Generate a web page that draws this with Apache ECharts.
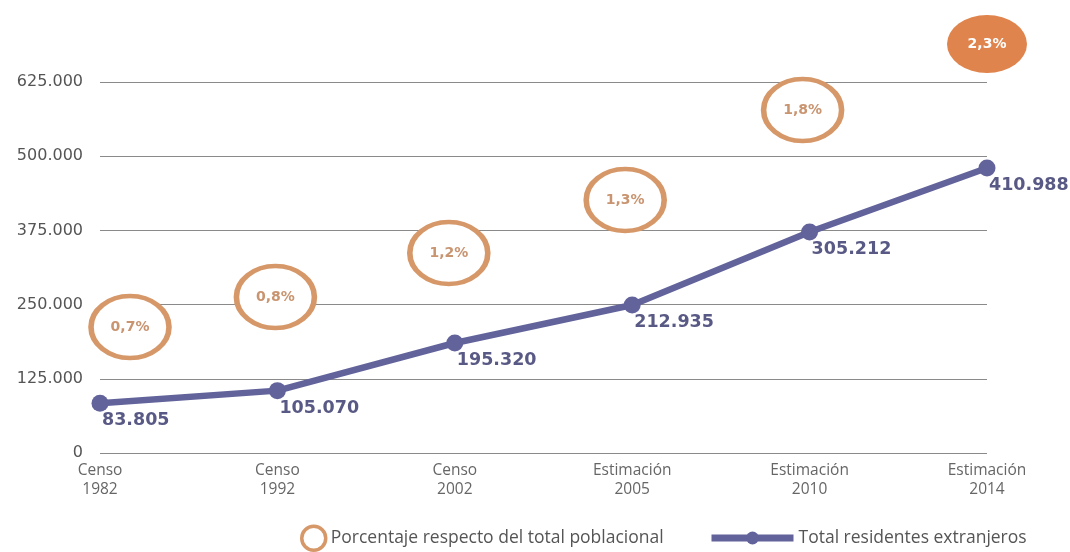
<!DOCTYPE html>
<html>
<head>
<meta charset="utf-8">
<script src="https://cdn.jsdelivr.net/npm/echarts@6/dist/echarts.min.js"></script>
<style>
html, body { margin: 0; padding: 0; background: #fff; }
#chart { width: 1070px; height: 552px; }
</style>
</head>
<body>
<div id="chart"></div>
<script>
// categorias del eje x
var periodos = ['Censo\n1982', 'Censo\n1992', 'Censo\n2002', 'Estimación\n2005', 'Estimación\n2010', 'Estimación\n2014'];
// altura de los puntos de la linea
var residentes = [83805, 105070, 185300, 249300, 372300, 480100];
// etiquetas impresas junto a cada punto
var residentesTxt = ['83.805', '105.070', '195.320', '212.935', '305.212', '410.988'];
// altura de los circulos de porcentaje
var porcAltura = [212300, 262800, 336900, 426200, 577800, 689000];
var porcTxt = ['0,7%', '0,8%', '1,2%', '1,3%', '1,8%', '2,3%'];
var porcDesplaz = [30, -2, -6, -7, -7, 0];
var yTicks = [0, 125000, 250000, 375000, 500000, 625000];

var chart = echarts.init(document.getElementById('chart'));

var naranja = '#d69868';
var morado = '#62639b';
var fuenteTxt = '"Open Sans", sans-serif';

var porcData = porcAltura.map(function (v, i) {
    var ultimo = i == porcAltura.length - 1;
    return {
        value: [i, v],
        symbolOffset: [porcDesplaz[i], 0],
        symbolSize: ultimo ? [80, 58] : [78, 62],
        itemStyle: ultimo ? { color: '#e0844e', borderWidth: 0 } : {},
        label: {
            formatter: porcTxt[i],
            color: ultimo ? '#fff' : '#c99470'
        }
    };
});

var option = {
    animation: false,
    backgroundColor: '#fff',
    grid: { left: 100, right: 83, top: 82, bottom: 99 },
    legend: [{
        bottom: 0,
        left: 300,
        padding: 0,
        itemWidth: 24,
        itemHeight: 24,
        itemGap: 8,
        icon: 'circle',
        itemStyle: { color: '#fff', borderColor: naranja, borderWidth: 3.5 },
        textStyle: { color: '#555', fontSize: 17.5, fontFamily: fuenteTxt },
        data: ['Porcentaje respecto del total poblacional']
    }, {
        bottom: 5,
        left: 708,
        padding: 0,
        itemWidth: 82,
        itemHeight: 16,
        itemGap: 6,
        lineStyle: { width: 7 },
        textStyle: { color: '#555', fontSize: 17.5, fontFamily: fuenteTxt },
        data: ['Total residentes extranjeros']
    }],
    xAxis: {
        type: 'category',
        boundaryGap: false,
        data: periodos,
        axisLine: { show: false },
        axisTick: { show: false },
        axisLabel: {
            margin: 8,
            color: '#666',
            fontSize: 15.5,
            lineHeight: 19,
            fontFamily: fuenteTxt
        }
    },
    yAxis: {
        type: 'value',
        min: yTicks[0],
        max: yTicks[yTicks.length - 1],
        interval: 125000,
        axisLine: { show: false },
        axisTick: { show: false },
        splitLine: { lineStyle: { color: '#8a8a8a', width: 1.2 } },
        axisLabel: {
            margin: 17,
            color: '#555',
            fontSize: 16,
            fontFamily: '"DejaVu Sans", sans-serif',
            formatter: function (v) {
                return v == 0 ? '0' : (v / 1000) + '.000';
            }
        }
    },
    series: [{
        name: 'Porcentaje respecto del total poblacional',
        type: 'scatter',
        clip: false,
        symbol: 'circle',
        z: 1,
        itemStyle: { color: '#fff', borderColor: naranja, borderWidth: 5, opacity: 1 },
        label: {
            show: true,
            position: 'inside',
            fontSize: 14,
            fontWeight: 'bold',
            fontFamily: '"DejaVu Sans", sans-serif'
        },
        data: porcData
    }, {
        name: 'Total residentes extranjeros',
        type: 'line',
        z: 3,
        symbol: 'circle',
        symbolSize: 17,
        lineStyle: { color: morado, width: 6.5 },
        itemStyle: { color: morado },
        label: {
            show: true,
            position: 'bottom',
            align: 'left',
            distance: 0,
            offset: [2, 0],
            color: '#595985',
            fontSize: 17.5,
            fontWeight: 'bold',
            fontFamily: '"DejaVu Sans", sans-serif',
            formatter: function (p) {
                return residentesTxt[p.dataIndex];
            }
        },
        data: residentes
    }]
};

chart.setOption(option);
</script>
</body>
</html>
